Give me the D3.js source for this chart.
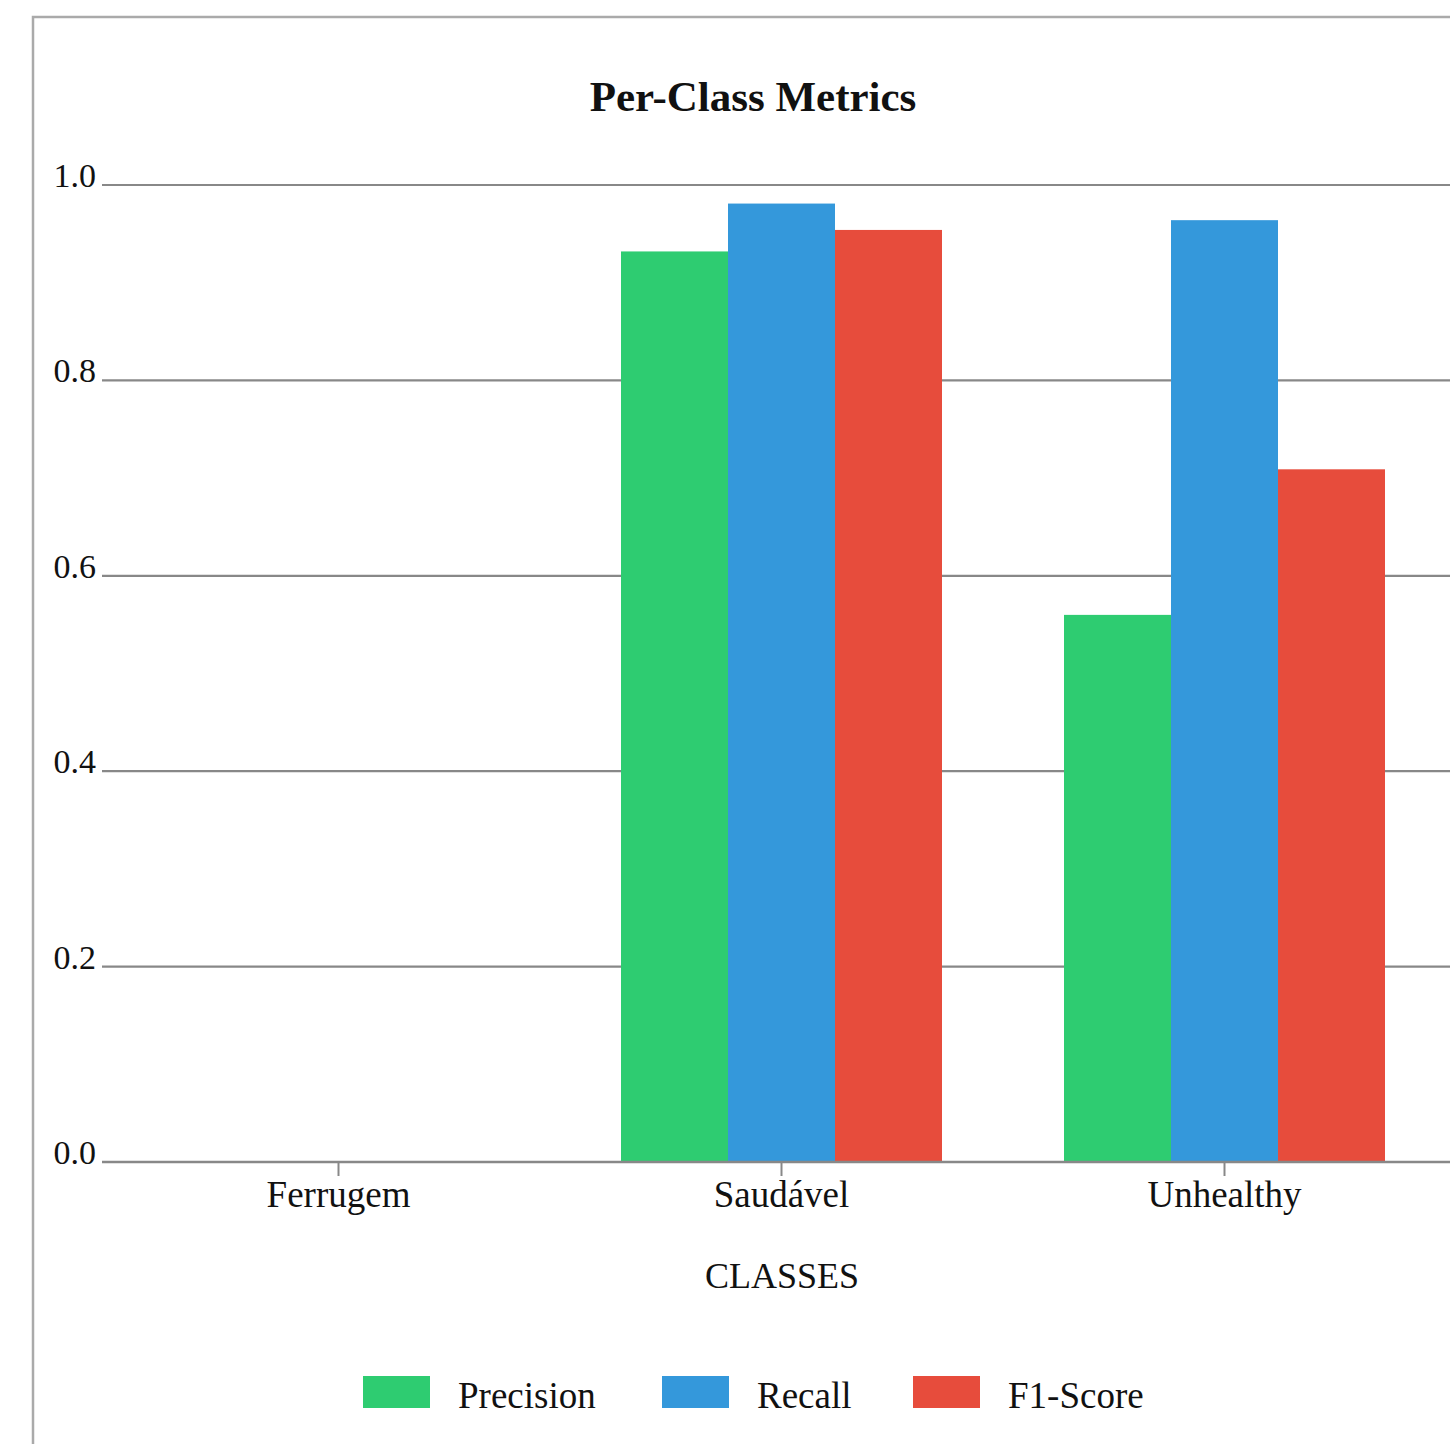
<!DOCTYPE html>
<html>
<head>
<meta charset="utf-8">
<script src="https://cdn.jsdelivr.net/npm/d3@7"></script>
<style>
	body { margin: 0; background: #fff; }
	text { font-family: "Liberation Serif", "DejaVu Serif", serif; fill: #111; }
</style>
</head>
<body>
<div id="chart"></div>
<script>
// Données
const classes = ["Ferrugem", "Saudável", "Unhealthy"];
const metrics = ["Precision", "Recall", "F1-Score"];
const precision = [0, 0.932, 0.56];
const recall = [0, 0.981, 0.964];
const f1 = [0, 0.954, 0.709];
const yTicks = [0, 0.2, 0.4, 0.6, 0.8, 1.0];
const colors = ["#2ecc71", "#3498db", "#e74c3c"];

const width = 1450, height = 1444;

const svg = d3.select("#chart")
	.append("svg")
	.attr("width", width)
	.attr("height", height);

// cadre
svg.append("rect")
	.attr("x", 33).attr("y", 17)
	.attr("width", 1500).attr("height", 1500)
	.style("fill", "none")
	.style("stroke", "#aaa")
	.style("stroke-width", 2.5);

// échelles
const x = d3.scaleBand()
	.domain(classes)
	.range([117, 1446])
	.padding(0);

const xSub = d3.scaleBand()
	.domain(metrics)
	.range([0, 321]);

const y = d3.scaleLinear()
	.domain([0, 1])
	.range([1162, 185]);

// titre
svg.append("text")
	.attr("x", 753).attr("y", 111)
	.attr("text-anchor", "middle")
	.style("font-size", "43px")
	.style("font-weight", "bold")
	.text("Per-Class Metrics");

// grille + axe y
const grid = svg.append("g");
grid.selectAll("line")
	.data(yTicks)
	.enter()
	.append("line")
	.attr("x1", 102).attr("x2", width)
	.attr("y1", d => y(d)).attr("y2", d => y(d))
	.style("stroke", "#888")
	.style("stroke-width", 2.2);

grid.selectAll("text")
	.data(yTicks)
	.enter()
	.append("text")
	.attr("x", 96)
	.attr("y", d => y(d) + 2)
	.attr("text-anchor", "end")
	.style("font-size", "34px")
	.text(d => d3.format(".1f")(d));

// barres
const series = [precision, recall, f1];
const bars = svg.append("g");
classes.forEach(function(c, i){
	bars.selectAll(null)
		.data(metrics)
		.enter()
		.append("rect")
		.attr("x", m => x(c) + x.bandwidth() / 2 - 160.5 + xSub(m))
		.attr("width", xSub.bandwidth())
		.attr("y", (m, j) => y(series[j][i]))
		.attr("height", (m, j) => y(0) - y(series[j][i]))
		.style("fill", (m, j) => colors[j]);
});

// axe x
const xAxis = svg.append("g");
xAxis.append("line")
	.attr("x1", 102).attr("x2", width)
	.attr("y1", y(0)).attr("y2", y(0))
	.style("stroke", "#888")
	.style("stroke-width", 2.5);

xAxis.selectAll("line.tick")
	.data(classes)
	.enter()
	.append("line")
	.attr("class", "tick")
	.attr("x1", d => x(d) + x.bandwidth() / 2)
	.attr("x2", d => x(d) + x.bandwidth() / 2)
	.attr("y1", y(0)).attr("y2", y(0) + 14)
	.style("stroke", "#888")
	.style("stroke-width", 2);

xAxis.selectAll("text")
	.data(classes)
	.enter()
	.append("text")
	.attr("x", d => x(d) + x.bandwidth() / 2)
	.attr("y", 1207)
	.attr("text-anchor", "middle")
	.style("font-size", "37px")
	.text(d => d);

svg.append("text")
	.attr("x", 782).attr("y", 1288)
	.attr("text-anchor", "middle")
	.style("font-size", "36px")
	.text("CLASSES");

// légende
const legendX = [363, 662, 913];
const legende = svg.append("g");
metrics.forEach(function(m, i){
	legende.append("rect")
		.attr("x", legendX[i]).attr("y", 1376)
		.attr("width", 67).attr("height", 32)
		.style("fill", colors[i]);
	legende.append("text")
		.attr("x", legendX[i] + 95).attr("y", 1408)
		.style("font-size", "37px")
		.text(m);
});
</script>
</body>
</html>
